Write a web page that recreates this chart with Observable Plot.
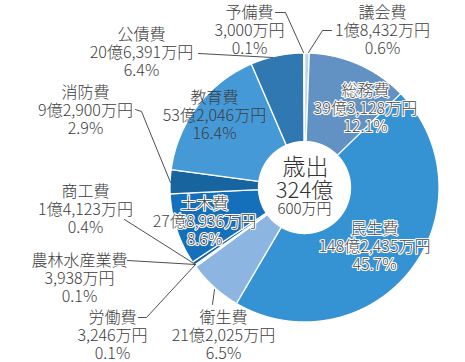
<!DOCTYPE html>
<html><head><meta charset="utf-8">
<script src="https://cdn.jsdelivr.net/npm/d3@7"></script>
<script src="https://cdn.jsdelivr.net/npm/@observablehq/plot@0.6"></script>
<style>html,body{margin:0;padding:0;background:#fff} svg{display:block}</style>
</head><body><div id="chart"></div>
<script>
// ---- data (clockwise from 12 o'clock) ----
const categories = ["議会費","総務費","民生費","衛生費","労働費","農林水産業費","商工費","土木費","消防費","教育費","公債費","予備費"];
const values = [18432, 393128, 1482435, 212025, 3246, 3938, 14123, 278936, 92900, 532046, 206391, 3000]; // 万円
const amountLabels = ["1億8,432万円","39億3,128万円","148億2,435万円","21億2,025万円","3,246万円","3,938万円","1億4,123万円","27億8,936万円","9億2,900万円","53億2,046万円","20億6,391万円","3,000万円"];
const percentLabels = ["0.6%","12.1%","45.7%","6.5%","0.1%","0.1%","0.4%","8.6%","2.9%","16.4%","6.4%","0.1%"];
const centerLines = ["歳出","324億","600万円"];

// ---- styles ----
const colors = ["#bfd4ec","#6192c3","#3592d3","#8db5e2","#b4cdec","#3f86c8","#1766ab","#1570bb","#17649e","#4699d7","#2f78b2","#c9dcf1"];
const W = 465, H = 362, CX = 304, CY = 187, R = 134.5, R_IN = 46;
const FONT = "'Noto Sans CJK JP','Noto Sans',sans-serif";
const LINE_H = 18;
// label block positions (pixel centre of first line) and halo flag
const labelLayout = {
  "議会費": [382, 12, false],
  "総務費": [365, 90, true],
  "民生費": [374, 228, true],
  "衛生費": [223, 317, false],
  "労働費": [112, 317, false],
  "農林水産業費": [79, 260, false],
  "商工費": [85, 191, false],
  "土木費": [204, 203, true],
  "消防費": [85, 92, false],
  "教育費": [214, 97, false],
  "公債費": [141, 34, false],
  "予備費": [249, 12, false]
};
const leaderLayout = {
  "予備費": [[275,12],[285,12],[303,52]],
  "議会費": [[331,30],[322,30],[308,52]],
  "公債費": [[198,53],[272,57]],
  "消防費": [[135,109],[141,111],[170,182]],
  "商工費": [[124,219],[195,264]],
  "農林水産業費": [[127,260],[195,264]],
  "労働費": [[138,317],[146,317],[195,264]],
  "衛生費": [[212,304],[214,289]]
};

// pixel -> data units (outer radius = 1)
const ux = x => (x - CX) / R;
const uy = y => (CY - y) / R;

// ---- slice polygons ----
const total = d3.sum(values);
let acc = 0;
const slicePts = [];
const rIn = R_IN / R;
categories.forEach((c, i) => {
  const a0 = acc / total * 2 * Math.PI;
  acc += values[i];
  const a1 = acc / total * 2 * Math.PI;
  const n = Math.max(2, Math.ceil((a1 - a0) / 0.004));
  for (let k = 0; k <= n; k++) {
    const a = a0 + (a1 - a0) * k / n;
    slicePts.push({key: c, color: colors[i], x: Math.sin(a), y: Math.cos(a)});
  }
  for (let k = n; k >= 0; k--) {
    const a = a0 + (a1 - a0) * k / n;
    slicePts.push({key: c, color: colors[i], x: rIn * Math.sin(a), y: rIn * Math.cos(a)});
  }
});

// ---- labels ----
const labelRows = [];
categories.forEach((c, i) => {
  const [lx, ly, halo] = labelLayout[c];
  [c, amountLabels[i], percentLabels[i]].forEach((t, j) => {
    labelRows.push({text: t, halo, x: ux(lx), y: uy(ly + j * LINE_H)});
  });
});
const leaderPts = [];
Object.entries(leaderLayout).forEach(([k, pts]) => pts.forEach(([x, y]) => leaderPts.push({key: k, x: ux(x), y: uy(y)})));

const centerRows = [
  {text: centerLines[0], x: ux(305), y: uy(167), size: 23},
  {text: centerLines[1], x: ux(304), y: uy(190), size: 22},
  {text: centerLines[2], x: ux(304), y: uy(209), size: 15}
];

const chart = Plot.plot({
  width: W, height: H, margin: 0,
  x: {domain: [ux(0), ux(W)], range: [0, W], axis: null},
  y: {domain: [uy(H), uy(0)], range: [H, 0], axis: null},
  color: {type: "identity"},
  style: {fontFamily: FONT, background: "#fff"},
  marks: [
    Plot.line(slicePts, {x: "x", y: "y", z: "key", fill: "color", stroke: "white", strokeWidth: 1.3, curve: "linear-closed"}),
    Plot.line(leaderPts, {x: "x", y: "y", z: "key", stroke: "#3a3a3a", strokeWidth: 0.9}),
    Plot.text(labelRows.filter(d => !d.halo), {x: "x", y: "y", text: "text", fontSize: 16, fontWeight: 300, fill: "#3d3d3d"}),
    Plot.text(labelRows.filter(d => d.halo), {x: "x", y: "y", text: "text", fontSize: 16, fontWeight: 300, fill: "#4a4a4a", stroke: "white", strokeWidth: 2.2}),
    Plot.text(centerRows, {x: "x", y: "y", text: "text", fontSize: "size", fontWeight: 300, fill: "#333"})
  ]
});
document.getElementById("chart").appendChild(chart);
</script>
</body></html>
